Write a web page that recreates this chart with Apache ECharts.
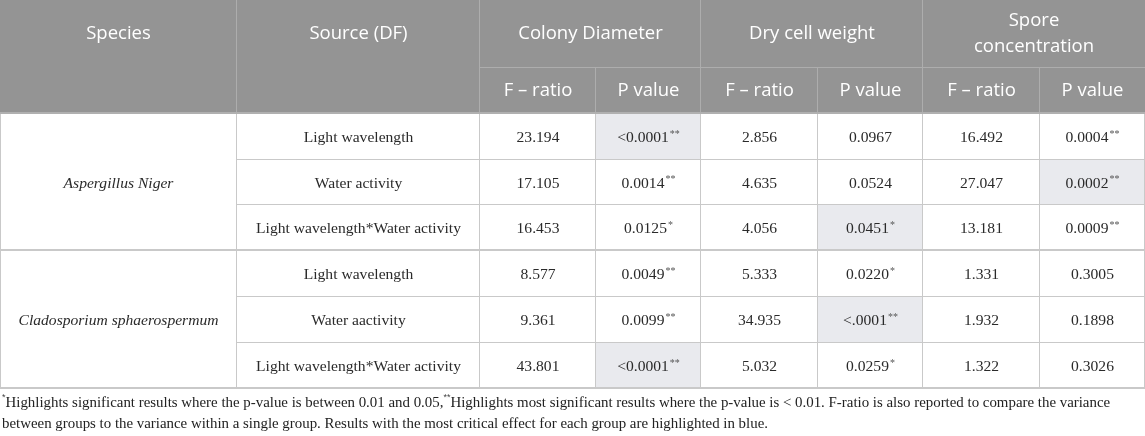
<!DOCTYPE html>
<html>
<head>
<meta charset="utf-8">
<script src="https://cdn.jsdelivr.net/npm/echarts@6/dist/echarts.min.js"></script>
<style>
  html, body { margin: 0; padding: 0; background: #fff; }
  #table { width: 1145px; height: 436px; }
</style>
</head>
<body>
<div id="table"></div>
<script>
// Table data ///////
var species = ['Aspergillus Niger', 'Cladosporium sphaerospermum'];
var sources = ['Light wavelength', 'Water activity', 'Light wavelength*Water activity',
               'Light wavelength', 'Water aactivity', 'Light wavelength*Water activity'];
var groupHeaders = ['Colony Diameter', 'Dry cell weight', 'Spore\nconcentration'];
var subHeaders = ['F \u2013 ratio', 'P value'];

var colonyF = ['23.194', '17.105', '16.453', '8.577', '9.361', '43.801'];
var colonyP = ['<0.0001', '0.0014', '0.0125', '0.0049', '0.0099', '<0.0001'];
var colonySig = ['**', '**', '*', '**', '**', '**'];
var colonyHi = [1, 0, 0, 0, 0, 1];

var dryF = ['2.856', '4.635', '4.056', '5.333', '34.935', '5.032'];
var dryP = ['0.0967', '0.0524', '0.0451', '0.0220', '<.0001', '0.0259'];
var drySig = ['', '', '*', '*', '**', '*'];
var dryHi = [0, 0, 1, 0, 1, 0];

var sporeF = ['16.492', '27.047', '13.181', '1.331', '1.932', '1.322'];
var sporeP = ['0.0004', '0.0002', '0.0009', '0.3005', '0.1898', '0.3026'];
var sporeSig = ['**', '**', '**', '', '', ''];
var sporeHi = [0, 1, 0, 0, 0, 0];

// layout (pixels on the hidden axes)
var colEdges = [0, 237, 480, 596, 701, 818, 923, 1040, 1145];
var rowEdges = [0, 68, 114, 160, 205, 251, 297, 343, 389];

var HEADER_BG = '#949494';
var HI_BG = '#e9eaee';
var SANS = '"Open Sans", sans-serif';
var SERIF = '"Liberation Serif", serif';

// build the cells
var cells = [];
function addCell(c0, c1, r0, r1, text, kind, hi) {
    cells.push({ c0: c0, c1: c1, r0: r0, r1: r1, text: text, kind: kind, hi: hi });
}
addCell(0, 1, 0, 2, 'Species', 'headTop');
addCell(1, 2, 0, 2, 'Source (DF)', 'headTop');
groupHeaders.forEach(function (g, i) {
    addCell(2 + i * 2, 4 + i * 2, 0, 1, g, 'head');
    addCell(2 + i * 2, 3 + i * 2, 1, 2, subHeaders[0], 'head');
    addCell(3 + i * 2, 4 + i * 2, 1, 2, subHeaders[1], 'head');
});
species.forEach(function (s, i) {
    addCell(0, 1, 2 + i * 3, 5 + i * 3, s, 'species');
});
var groups = [[colonyF, colonyP, colonySig, colonyHi], [dryF, dryP, drySig, dryHi], [sporeF, sporeP, sporeSig, sporeHi]];
sources.forEach(function (src, r) {
    addCell(1, 2, 2 + r, 3 + r, src, 'source');
    groups.forEach(function (g, k) {
        addCell(2 + k * 2, 3 + k * 2, 2 + r, 3 + r, g[0][r], 'body', 0);
        var t = g[1][r];
        addCell(3 + k * 2, 4 + k * 2, 2 + r, 3 + r, g[2][r] ? t + '{sup|' + g[2][r] + '}' : t, 'body', g[3][r]);
    });
});

function renderCell(params, api) {
    var c = cells[params.dataIndex];
    var p0 = api.coord([colEdges[c.c0], rowEdges[c.r0]]);
    var p1 = api.coord([colEdges[c.c1], rowEdges[c.r1]]);
    var w = p1[0] - p0[0], h = p1[1] - p0[1];
    var head = c.kind === 'head' || c.kind === 'headTop';
    var fill = head ? HEADER_BG : (c.hi ? HI_BG : '#fff');
    var line = head ? '#adadad' : '#c9c9c9';
    var children = [
        { type: 'rect', shape: { x: p0[0], y: p0[1], width: w, height: h }, style: { fill: fill } }
    ];
    // right border
    if (c.c1 < colEdges.length - 1) {
        children.push({ type: 'line', shape: { x1: p1[0] - 0.5, y1: p0[1], x2: p1[0] - 0.5, y2: p1[1] },
            style: { stroke: line, lineWidth: 1 } });
    }
    // bottom border
    var thick = c.r1 === 2 || c.r1 === 5 || c.r1 === 8;
    children.push({ type: 'line', shape: { x1: p0[0], y1: p1[1] - (thick ? 1 : 0.5), x2: p1[0], y2: p1[1] - (thick ? 1 : 0.5) },
        style: { stroke: c.r1 === 2 ? '#b0b0b0' : line, lineWidth: thick ? 2 : 1 } });
    // outer side borders for the body
    if (!head && c.c0 === 0) {
        children.push({ type: 'line', shape: { x1: p0[0] + 0.5, y1: p0[1], x2: p0[0] + 0.5, y2: p1[1] },
            style: { stroke: line, lineWidth: 1 } });
    }
    if (!head && c.c1 === colEdges.length - 1) {
        children.push({ type: 'line', shape: { x1: p1[0] - 0.5, y1: p0[1], x2: p1[0] - 0.5, y2: p1[1] },
            style: { stroke: line, lineWidth: 1 } });
    }
    // Species / Source sit in the top header row
    var cy = c.kind === 'headTop' ? api.coord([0, rowEdges[1] / 2])[1] : p0[1] + h / 2 + (head ? 0 : 1);
    children.push({
        type: 'text',
        x: p0[0] + w / 2,
        y: cy,
        style: {
            text: c.text,
            align: 'center',
            verticalAlign: 'middle',
            fill: head ? '#fff' : '#2a2a2a',
            fontFamily: head ? SANS : SERIF,
            fontSize: head ? 18.5 : 15.6,
            fontStyle: c.kind === 'species' ? 'italic' : 'normal',
            lineHeight: head ? 26 : 18,
            rich: {
                sup: { fontSize: 10, fontFamily: SERIF, fill: '#555', verticalAlign: 'top', lineHeight: 18, padding: [0, 0, 1, 1] }
            }
        }
    });
    return { type: 'group', children: children };
}

var option = {
    animation: false,
    grid: { left: 0, right: 0, top: 0, bottom: 0 },
    xAxis: { type: 'value', min: 0, max: 1145, show: false },
    yAxis: { type: 'value', min: 0, max: 436, inverse: true, show: false },
    series: [
        {
            type: 'custom',
            renderItem: renderCell,
            data: cells.map(function (c, i) { return [colEdges[c.c0], rowEdges[c.r0], i]; }),
            silent: true
        }
    ],
    graphic: [
        {
            type: 'text',
            left: 2,
            top: 393,
            style: {
                text: '{s|*}Highlights significant results where the p-value is between 0.01 and 0.05,{s|**}Highlights most significant results where the p-value is < 0.01. F-ratio is also reported to compare the variance\nbetween groups to the variance within a single group. Results with the most critical effect for each group are highlighted in blue.',
                fontFamily: SERIF,
                fontSize: 14.9,
                lineHeight: 21,
                fill: '#222',
                rich: {
                    s: { fontSize: 9, verticalAlign: 'top', lineHeight: 21, padding: [0, 0, 1, 0], fill: '#444' }
                }
            }
        }
    ]
};

var chart = echarts.init(document.getElementById('table'));
chart.setOption(option);

window.addEventListener('resize', function () {
    chart.resize();
});
</script>
</body>
</html>
